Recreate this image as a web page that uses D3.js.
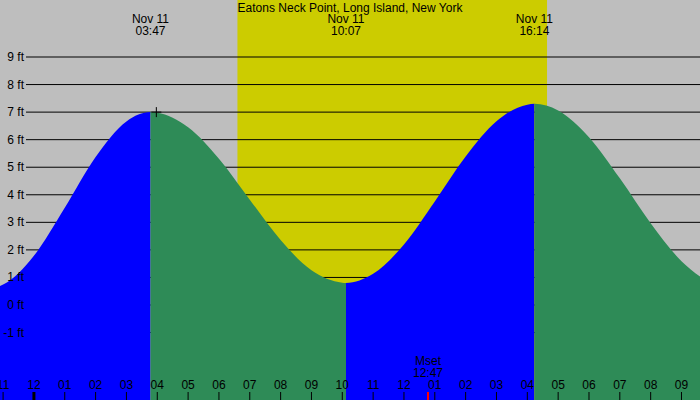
<!DOCTYPE html>
<html><head><meta charset="utf-8">
<script src="https://cdn.jsdelivr.net/npm/d3@7"></script>
<style>body{margin:0}svg{display:block}text{font-family:"Liberation Sans",Arial,sans-serif;font-size:12px}</style>
</head><body><svg width="700" height="400"></svg>
<script>
// hours relative to Nov 11 00:00, tide height in ft
const hours   = [-1.1,-1,0,1,2,3,3.78,4,5,6,7,8,9,10,10.12,11,12,13,14,15,16,16.23,17,18,19,20,21,21.6];
const heights = [0.69,0.74,1.79,3.53,5.37,6.66,7.0,6.98,6.45,5.31,3.82,2.36,1.26,0.81,0.8,1.13,2.2,3.76,5.39,6.67,7.27,7.3,7.06,6.09,4.6,2.97,1.59,1.03];
const yTicks = [-1,0,1,2,3,4,5,6,7,8,9];
const hourTicks = d3.range(-1,22);
const hourLabels = hourTicks.map(h=>{let v=((h%12)+12)%12; if(v===0)v=12; return String(v).padStart(2,"0");});
const extremes = [{h:3.78,label:"03:47"},{h:10.12,label:"10:07"},{h:16.23,label:"16:14"}];
const daylight = [6.6,16.64];
const moonset = {h:12.78,label:"12:47"};
const title = "Eatons Neck Point, Long Island, New York";

const svg=d3.select("svg");
const x=d3.scaleLinear().domain([-1.1,21.6]).range([0,700]);
const y=d3.scaleLinear().domain([0,9]).range([305,57]);
svg.append("rect").attr("width",700).attr("height",400).attr("fill","#bebebe");
svg.append("rect").attr("x",x(daylight[0])).attr("width",x(daylight[1])-x(daylight[0])).attr("y",0).attr("height",400).attr("fill","#cccc00");
svg.selectAll(".g").data(yTicks).join("line").attr("x1",26).attr("x2",700).attr("y1",d=>y(d)).attr("y2",d=>y(d)).attr("stroke","#000");
const pts=hours.map((h,i)=>[h,heights[i]]);
const area=d3.area().x(d=>x(d[0])).y0(400).y1(d=>y(d[1])).curve(d3.curveMonotoneX);
svg.append("clipPath").attr("id","tc").append("path").attr("d",area(pts));
const bounds=[-1.1,3.78,10.12,16.23,21.6];
const cols=["#0000ff","#2e8b57","#0000ff","#2e8b57"];
const g=svg.append("g").attr("clip-path","url(#tc)");
for(let i=0;i<4;i++) g.append("rect").attr("x",x(bounds[i])).attr("width",x(bounds[i+1])-x(bounds[i])).attr("y",0).attr("height",400).attr("fill",cols[i]);
svg.selectAll(".yl").data(yTicks).join("text").attr("x",24).attr("y",d=>y(d)+4).attr("text-anchor","end").text(d=>d+" ft");
svg.append("text").attr("x",350).attr("y",12).attr("text-anchor","middle").text(title);
extremes.forEach(e=>{
  svg.append("text").attr("x",x(e.h)).attr("y",23).attr("text-anchor","middle").text("Nov 11");
  svg.append("text").attr("x",x(e.h)).attr("y",35).attr("text-anchor","middle").text(e.label);
});
svg.append("path").attr("d",`M${x(3.97)-5},${y(7)}h10M${x(3.97)},${y(7)-5}v10`).attr("stroke","#000");
svg.selectAll(".tk").data(hourTicks).join("line").attr("x1",d=>x(d)).attr("x2",d=>x(d)).attr("y1",392).attr("y2",400)
  .attr("stroke","#000").attr("stroke-width",d=>d===0?3:1);
svg.selectAll(".tl").data(hourTicks).join("text").attr("x",d=>x(d)).attr("y",389).attr("text-anchor","middle").text((d,i)=>hourLabels[i]);
svg.append("line").attr("x1",x(moonset.h)).attr("x2",x(moonset.h)).attr("y1",392).attr("y2",400).attr("stroke","#ff0000").attr("stroke-width",2);
svg.append("text").attr("x",x(moonset.h)).attr("y",365).attr("text-anchor","middle").text("Mset");
svg.append("text").attr("x",x(moonset.h)).attr("y",377).attr("text-anchor","middle").text(moonset.label);
</script></body></html>
